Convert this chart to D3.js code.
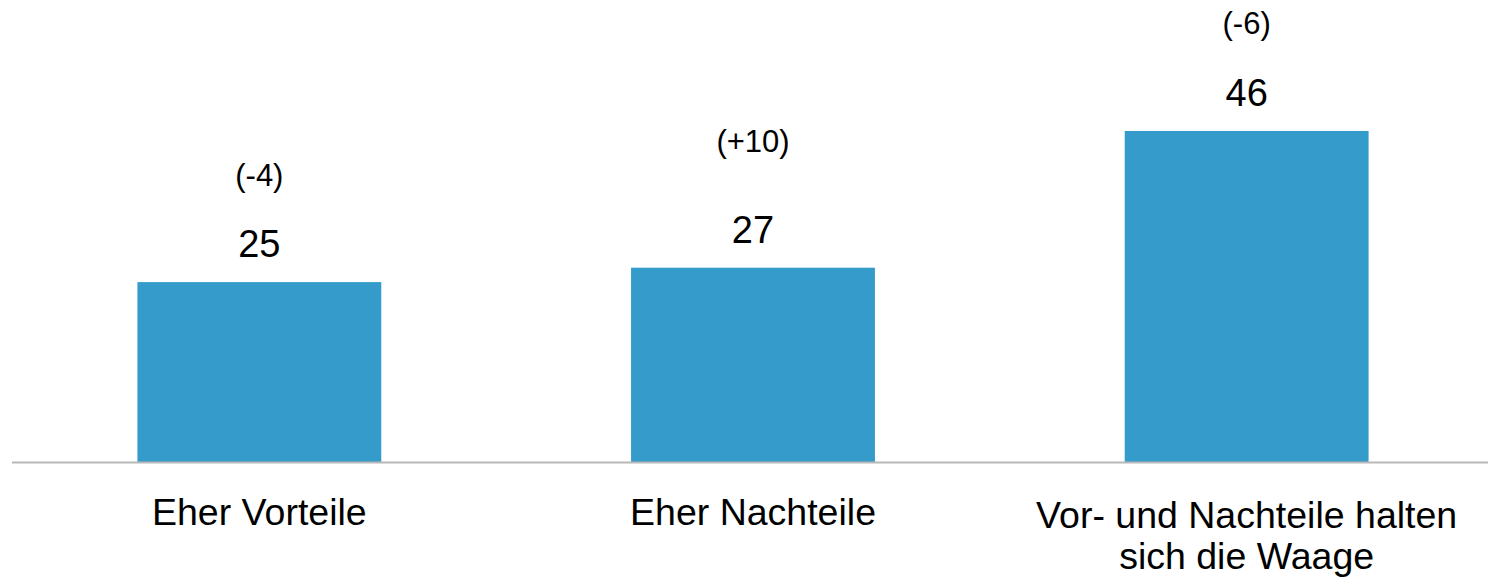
<!DOCTYPE html>
<html>
<head>
<meta charset="utf-8">
<script src="https://cdn.jsdelivr.net/npm/d3@7"></script>
<style>
  body { margin: 0; background: #fff; }
  text { font-family: "Liberation Sans", Arial, sans-serif; fill: #000; }
</style>
</head>
<body>
<div id="chart"></div>
<script>
const categories = ["Eher Vorteile", "Eher Nachteile", "Vor- und Nachteile halten sich die Waage"];
const values = [25, 27, 46];
const changes = ["(-4)", "(+10)", "(-6)"];

const width = 1488;
const height = 579;
const baseline = 462;
// gap between value label and change label, per bar
const changeGap = [71, 91, 72];

const svg = d3.select("#chart")
    .append("svg")
    .attr("width", width)
    .attr("height", height);

const x = d3.scaleBand()
    .domain(categories)
    .range([14, 1492])
    .paddingInner(0.506)
    .paddingOuter(0.25);

const y = d3.scaleLinear()
    .domain([0, 64.2])
    .range([baseline, 0]);

// bars
svg.selectAll(".bar")
    .data(values)
    .enter()
    .append("rect")
    .attr("class", "bar")
    .attr("x", (d, i) => x(categories[i]))
    .attr("y", d => y(d))
    .attr("width", x.bandwidth())
    .attr("height", d => baseline - y(d))
    .attr("fill", "#359bcb");

// base line
svg.append("line")
    .attr("x1", 12)
    .attr("x2", width)
    .attr("y1", baseline + 0.5)
    .attr("y2", baseline + 0.5)
    .attr("stroke", "#b8b8b8")
    .attr("stroke-width", 2);

// value labels
svg.selectAll(".value")
    .data(values)
    .enter()
    .append("text")
    .attr("class", "value")
    .attr("x", (d, i) => x(categories[i]) + x.bandwidth() / 2)
    .attr("y", d => y(d) - 25)
    .attr("text-anchor", "middle")
    .style("font-size", "38px")
    .text(d => d);

// change labels
svg.selectAll(".change")
    .data(changes)
    .enter()
    .append("text")
    .attr("class", "change")
    .attr("x", (d, i) => x(categories[i]) + x.bandwidth() / 2)
    .attr("y", (d, i) => y(values[i]) - 25 - changeGap[i])
    .attr("text-anchor", "middle")
    .style("font-size", "31px")
    .text(d => d);

// category labels, wrapped
const cats = svg.selectAll(".cat")
    .data(categories)
    .enter()
    .append("text")
    .attr("class", "cat")
    .attr("x", d => x(d) + x.bandwidth() / 2)
    .attr("y", 525)
    .attr("text-anchor", "middle")
    .style("font-size", "37.5px");

cats.each(function(d) {
    const el = d3.select(this);
    const cx = +el.attr("x");
    const words = d.split(" ");
    let line = [];
    let lineNo = 0;
    let tspan = el.append("tspan").attr("x", cx).attr("dy", 0);
    words.forEach(w => {
        line.push(w);
        tspan.text(line.join(" "));
        if (tspan.node().getComputedTextLength() > 440 && line.length > 1) {
            line.pop();
            tspan.text(line.join(" "));
            line = [w];
            lineNo++;
            tspan = el.append("tspan").attr("x", cx).attr("dy", 41).text(w);
        }
    });
    if (lineNo > 0) el.attr("y", 528);
});
</script>
</body>
</html>
